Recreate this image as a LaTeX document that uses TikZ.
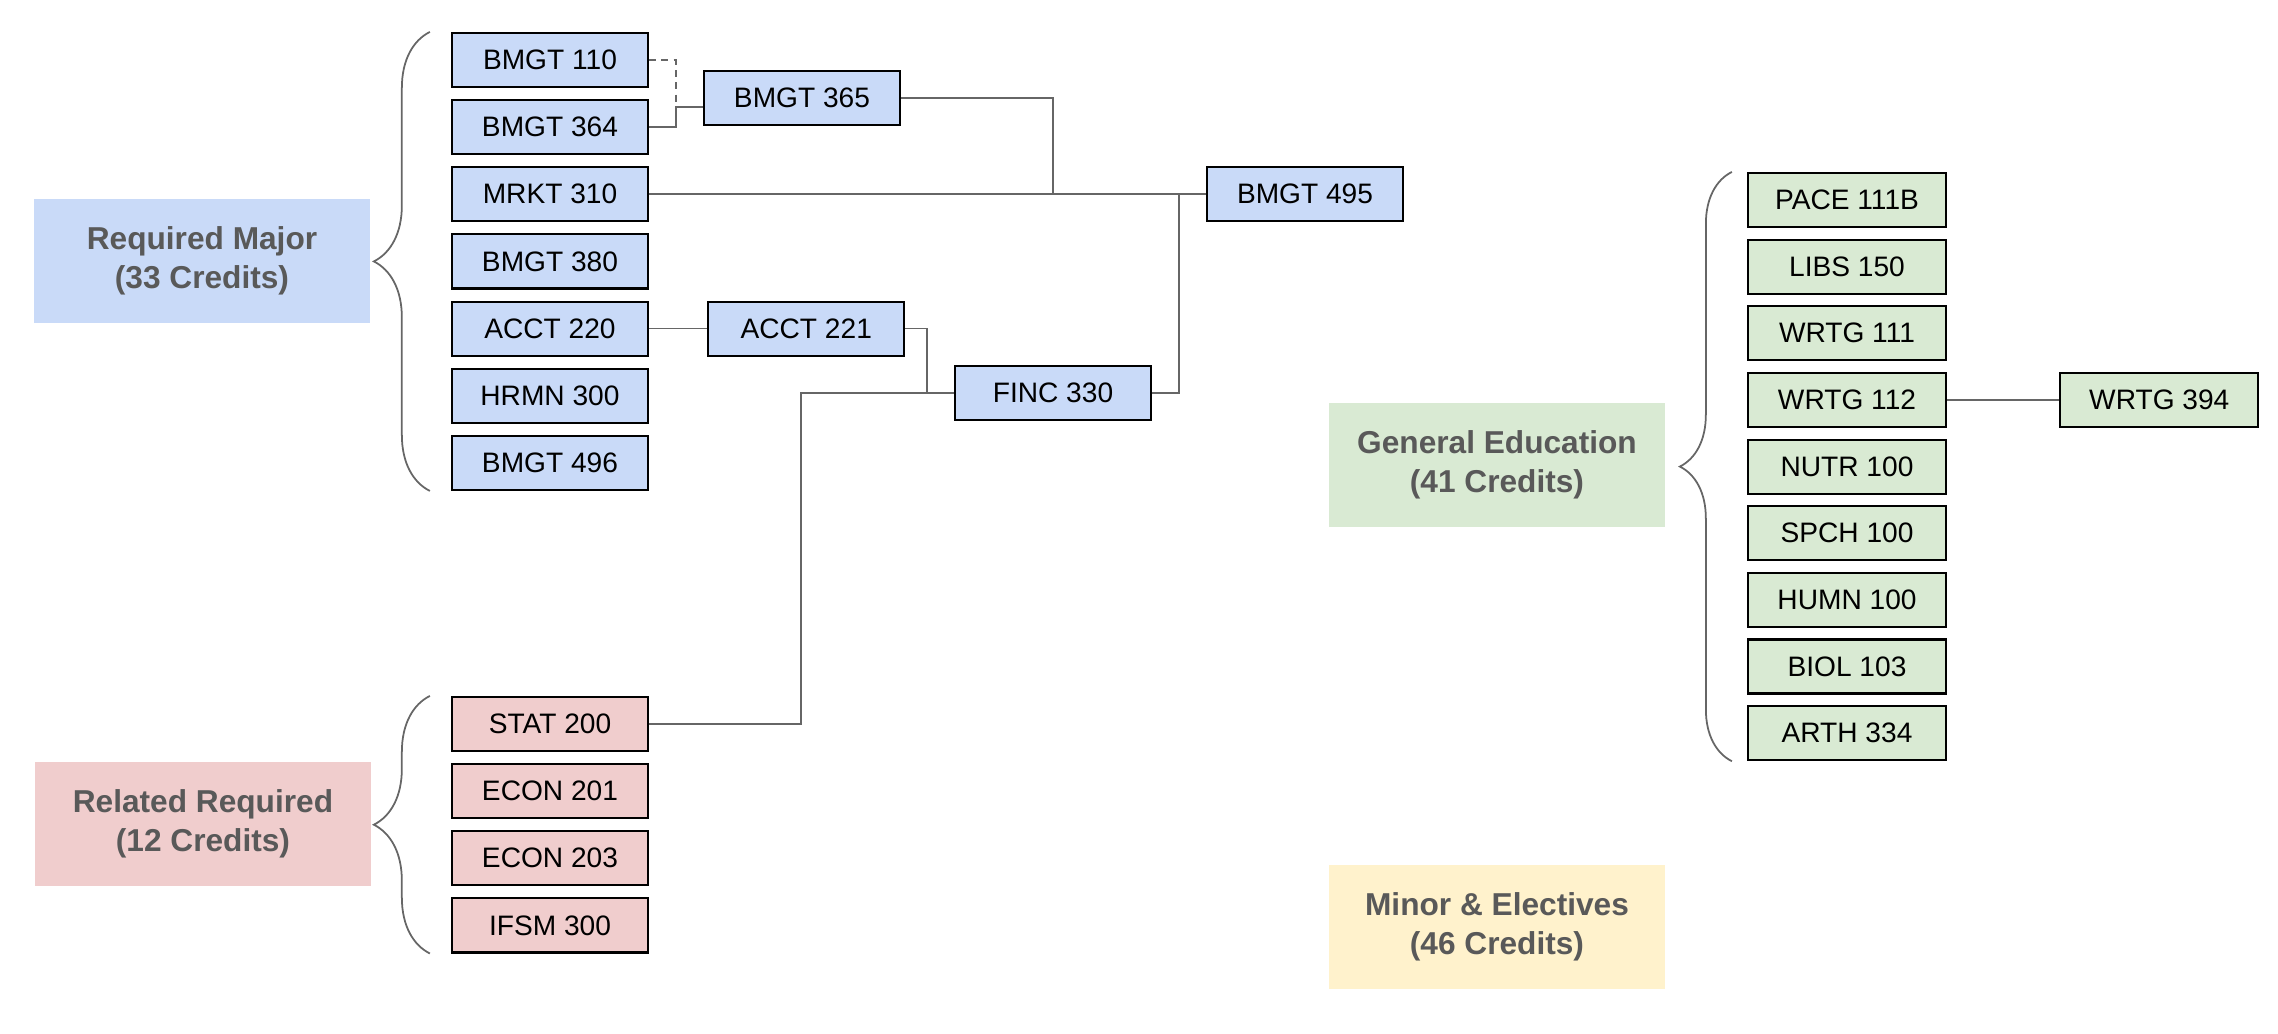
\documentclass[tikz,border=0pt]{standalone}
\usepackage{fontspec}
\setmainfont{Liberation Sans}
\usetikzlibrary{positioning,decorations.pathreplacing}
\definecolor{majorblue}{HTML}{C9DAF8}
\definecolor{relatedred}{HTML}{F0CDCD}
\definecolor{genedgreen}{HTML}{D9EAD3}
\definecolor{minoryellow}{HTML}{FFF2CC}
\definecolor{labelgray}{HTML}{595959}
\definecolor{linkgray}{HTML}{666666}

\begin{document}
\begin{tikzpicture}[
    x=0.01cm, y=-0.01cm,
    font=\fontsize{8}{9.6}\selectfont,
    course/.style={draw=black, line width=0.6pt, minimum width=1.96cm,
      minimum height=0.54cm, inner sep=0pt},
    group/.style={align=center, minimum width=3.36cm, minimum height=1.23cm,
      text=labelgray, font=\fontsize{9}{11.1}\selectfont\bfseries},
    link/.style={draw=linkgray, line width=0.5pt},
    curly/.style={draw=linkgray, line width=0.5pt, decorate,
      decoration={brace, amplitude=#1}},
  ]
    \useasboundingbox (0,0) rectangle (2278,1034);

    % required major
    \node[group, fill=majorblue] (reqmajor) at (202,261) {Required Major\\(33 Credits)};
    \node[course, fill=majorblue] (bmgt110) at (550,60) {BMGT 110};
    \node[course, fill=majorblue, below=0.11cm of bmgt110] (bmgt364) {BMGT 364};
    \node[course, fill=majorblue, below=0.11cm of bmgt364] (mrkt310) {MRKT 310};
    \node[course, fill=majorblue, below=0.11cm of mrkt310] (bmgt380) {BMGT 380};
    \node[course, fill=majorblue, below=0.11cm of bmgt380] (acct220) {ACCT 220};
    \node[course, fill=majorblue, below=0.11cm of acct220] (hrmn300) {HRMN 300};
    \node[course, fill=majorblue, below=0.11cm of hrmn300] (bmgt496) {BMGT 496};
    \node[course, fill=majorblue] (bmgt365) at (802,98) {BMGT 365};
    \node[course, fill=majorblue, right=0.58cm of acct220] (acct221) {ACCT 221};
    \node[course, fill=majorblue] (finc330) at (1053,393) {FINC 330};
    \node[course, fill=majorblue] (bmgt495) at (1305,194) {BMGT 495};
    \draw[curly=0.56cm] ([xshift=-0.21cm]bmgt496.south west) -- ([xshift=-0.21cm]bmgt110.north west);

    % related required
    \node[group, fill=relatedred] (relreq) at (203,824) {Related Required\\(12 Credits)};
    \node[course, fill=relatedred] (stat200) at (550,724) {STAT 200};
    \node[course, fill=relatedred, below=0.11cm of stat200] (econ201) {ECON 201};
    \node[course, fill=relatedred, below=0.11cm of econ201] (econ203) {ECON 203};
    \node[course, fill=relatedred, below=0.11cm of econ203] (ifsm300) {IFSM 300};
    \draw[curly=0.56cm] ([xshift=-0.21cm]ifsm300.south west) -- ([xshift=-0.21cm]stat200.north west);

    % general education
    \node[group, fill=genedgreen] (gened) at (1497,465) {General Education\\(41 Credits)};
    \node[course, fill=genedgreen, minimum width=1.98cm] (pace111b) at (1847,200) {PACE 111B};
    \node[course, fill=genedgreen, minimum width=1.98cm, below=0.105cm of pace111b] (libs150) {LIBS 150};
    \node[course, fill=genedgreen, minimum width=1.98cm, below=0.105cm of libs150] (wrtg111) {WRTG 111};
    \node[course, fill=genedgreen, minimum width=1.98cm, below=0.105cm of wrtg111] (wrtg112) {WRTG 112};
    \node[course, fill=genedgreen, minimum width=1.98cm, below=0.105cm of wrtg112] (nutr100) {NUTR 100};
    \node[course, fill=genedgreen, minimum width=1.98cm, below=0.105cm of nutr100] (spch100) {SPCH 100};
    \node[course, fill=genedgreen, minimum width=1.98cm, below=0.105cm of spch100] (humn100) {HUMN 100};
    \node[course, fill=genedgreen, minimum width=1.98cm, below=0.105cm of humn100] (biol103) {BIOL 103};
    \node[course, fill=genedgreen, minimum width=1.98cm, below=0.105cm of biol103] (arth334) {ARTH 334};
    \node[course, fill=genedgreen, minimum width=1.98cm, right=1.12cm of wrtg112] (wrtg394) {WRTG 394};
    \draw[curly=0.52cm] ([xshift=-0.15cm]arth334.south west) -- ([xshift=-0.15cm]pace111b.north west);

    % minor and electives
    \node[group, fill=minoryellow] (minor) at (1497,927) {Minor \& Electives\\(46 Credits)};

    % prerequisite links
    \coordinate (j365) at (676,107);
    \coordinate (j495) at (1053,194);
    \coordinate (j330) at (1179,194);
    \coordinate (jacct) at (927,393);
    \coordinate (jstat) at (801,393);
    \draw[link, dash pattern=on 2pt off 1.5pt] (bmgt110.east) -| (j365);
    \draw[link] (bmgt364.east) -| (j365) -- (j365 -| bmgt365.west);
    \draw[link] (bmgt365.east) -| (j495);
    \draw[link] (mrkt310.east) -- (mrkt310.east -| bmgt495.west);
    \draw[link] (finc330.east) -| (j330);
    \draw[link] (acct220) -- (acct221);
    \draw[link] (acct221.east) -| (jacct) -- (finc330.west);
    \draw[link] (stat200.east) -| (jstat) -- (jacct);
    \draw[link] (wrtg112) -- (wrtg394);
  \end{tikzpicture}
\end{document}
